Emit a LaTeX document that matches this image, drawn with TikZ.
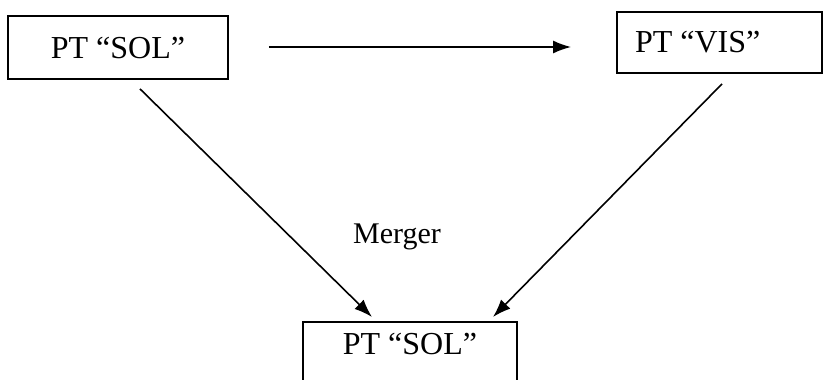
\documentclass[tikz,border=0pt]{standalone}
\usepackage{fontspec}
\setmainfont{Liberation Serif}
\usetikzlibrary{arrows.meta}
\begin{document}
\begin{tikzpicture}[x=1pt,y=-1pt,
  box/.style={draw,line width=1.8pt,rectangle,inner sep=0pt,
    font=\fontsize{32}{36}\selectfont},
  arr/.style={line width=1.6pt,-{Latex[length=18pt,width=13pt]}},
  lbl/.style={font=\fontsize{30}{34}\selectfont,inner sep=0pt}]
  \clip (0,0) rectangle (823,380);
  % upper left box
  \node[box,minimum width=220pt,minimum height=63pt] (sol1) at (118,47.5) {PT “SOL”};
  % upper right box, text set towards its left side
  \node[box,minimum width=205pt,minimum height=61pt] (vis) at (719.5,42.5)
    {\makebox[169pt][l]{PT “VIS”}};
  % lower box, runs past the bottom edge
  \node[box,anchor=north,minimum width=214pt,text height=23pt,text depth=31pt,inner ysep=10pt] (sol2) at (410,321) {PT “SOL”};
  \node[lbl] (merger) at (397,237) {Merger};
  % connectors
  \draw[arr] ([xshift=40pt]sol1.east |- 0,47) -- ([xshift=-45pt]vis.west |- 0,47);
  \draw[arr] ([shift={(22,9)}]sol1.south) -- ([shift={(-38,-4)}]sol2.north);
  \draw[arr] ([shift={(2.5,10)}]vis.south) -- ([shift={(83,-4)}]sol2.north);
\end{tikzpicture}
\end{document}
